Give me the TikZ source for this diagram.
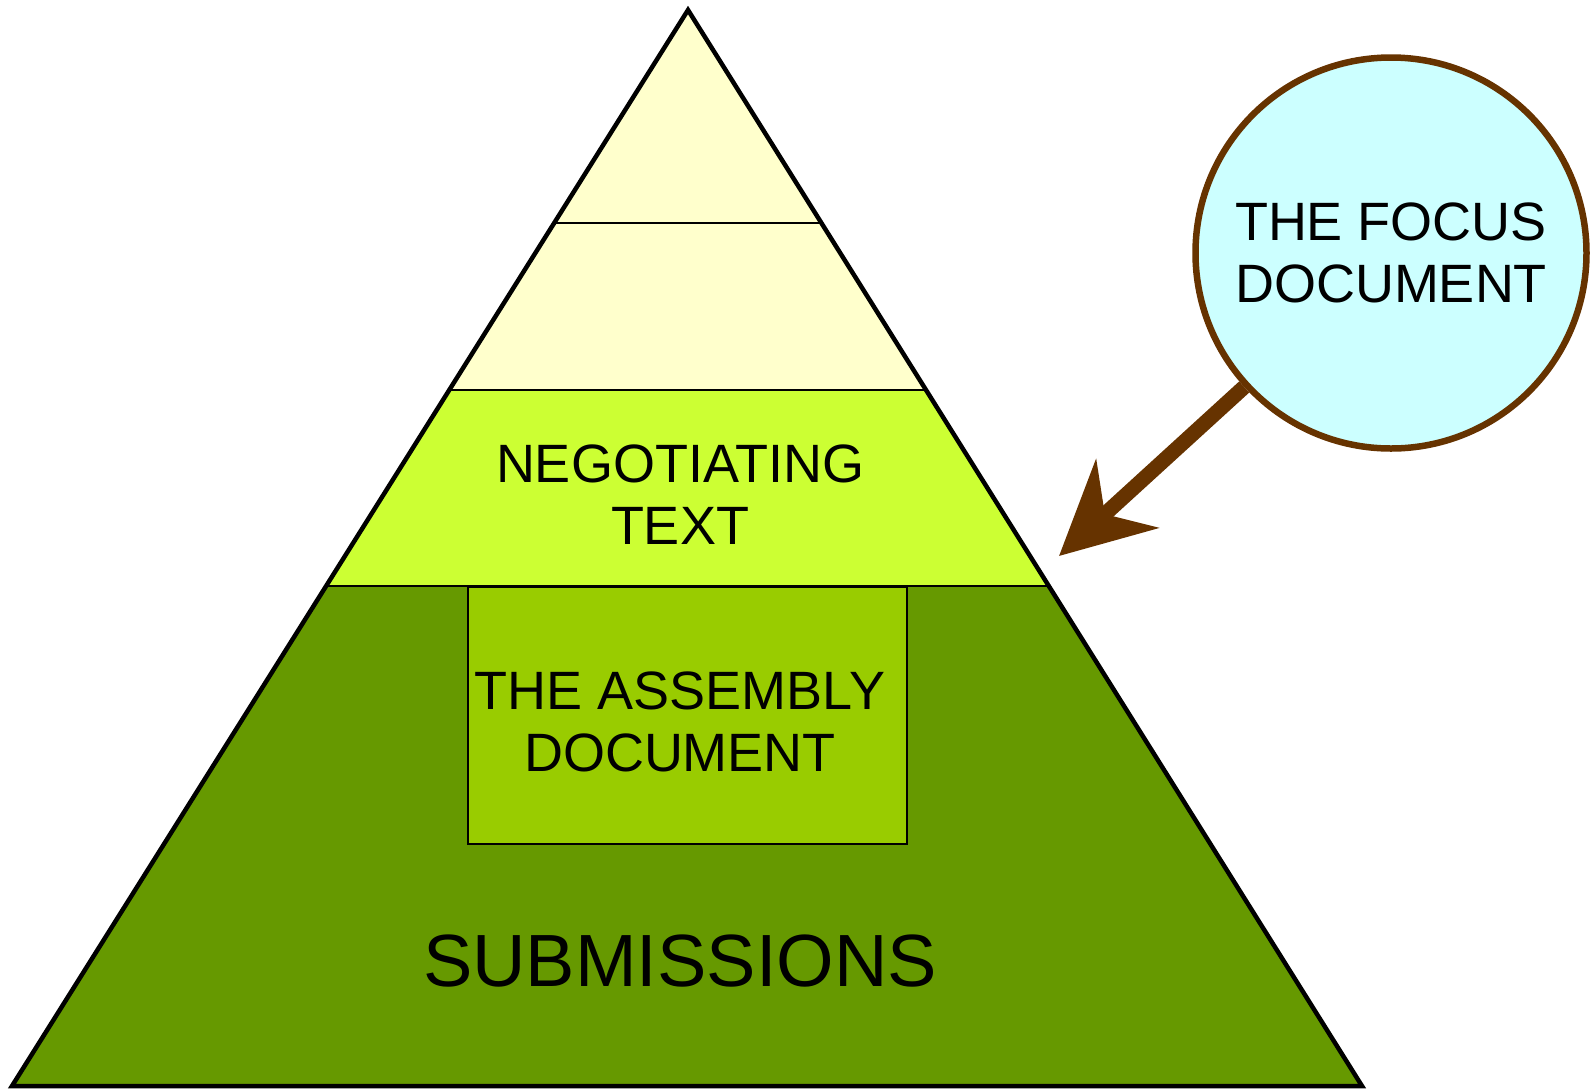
\documentclass[tikz,border=0pt]{standalone}
\usepackage{fontspec}
\setmainfont{Liberation Sans}
\usetikzlibrary{arrows.meta}
\definecolor{paleyellow}{HTML}{FFFFCC}
\definecolor{limegreen}{HTML}{CCFF33}
\definecolor{olivegreen}{HTML}{669900}
\definecolor{boxgreen}{HTML}{99CC00}
\definecolor{palecyan}{HTML}{CCFFFF}
\definecolor{darkbrown}{HTML}{663300}
\tikzstyle{bandtext}=[align=center,font=\fontsize{54}{62}\selectfont]

\begin{document}
\begin{tikzpicture}[x=1pt,y=-1pt]
    \tikzstyle{bandline}=[line width=2pt]
    \useasboundingbox (0,0) rectangle (1596,1088);
    \coordinate (apex) at (688,10);
    \coordinate (baseL) at (12,1086);
    \coordinate (baseR) at (1362,1086);
    \begin{scope}
      \clip (apex) -- (baseL) -- (baseR) -- cycle;
      \fill[paleyellow] (0,0) rectangle (1596,390);
      \fill[limegreen] (0,390) rectangle (1596,586);
      \fill[olivegreen] (0,586) rectangle (1596,1088);
    \end{scope}
    \draw[bandline] (554,223) -- (821,223);
    \draw[bandline] (449,390) -- (926,390);
    \draw[bandline] (328,586) -- (1048,586);
    \node[draw,fill=boxgreen,line width=1.5pt,minimum width=439pt,minimum height=257pt] (assembly) at (687.5,715.5) {};
    \draw[line width=4.5pt,line join=miter] (apex) -- (baseL) -- (baseR) -- cycle;
    \node[bandtext] (negotiating) at (680,495) {NEGOTIATING\\TEXT};
    \node[bandtext] (assemblytext) at (680,722) {THE ASSEMBLY\\DOCUMENT};
    \node[font=\fontsize{74}{80}\selectfont] (submissions) at (680,961) {SUBMISSIONS};
    \node[circle,draw=darkbrown,line width=6.5pt,fill=palecyan,minimum size=391pt,bandtext] (focus) at (1391,253) {THE FOCUS\\DOCUMENT};
    \coordinate (tip) at (1059,556);
    \draw[darkbrown,line width=15pt,-{Stealth[length=92pt,width=92pt,inset=30pt]}] (focus) -- (tip);
  \end{tikzpicture}
\end{document}
